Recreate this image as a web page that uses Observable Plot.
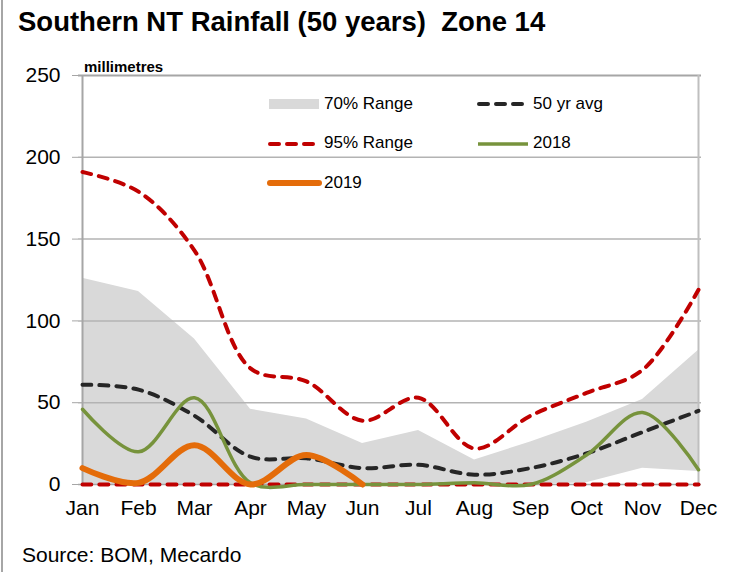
<!DOCTYPE html>
<html>
<head>
<meta charset="utf-8">
<script src="https://cdn.jsdelivr.net/npm/d3@7"></script>
<script src="https://cdn.jsdelivr.net/npm/@observablehq/plot@0.6"></script>
<style>
  body { margin: 0; background: #fff; font-family: "Liberation Sans", Arial, sans-serif; }
  #wrap { position: relative; width: 730px; height: 572px; overflow: hidden; }
  #border { position: absolute; left: 1px; top: 0; width: 2px; height: 572px; background: #a6a6a6; }
  #title { position: absolute; left: 18px; top: 6px; font-size: 27.5px; font-weight: bold; color: #000; white-space: pre; }
  #unit { position: absolute; left: 84px; top: 58px; font-size: 15px; font-weight: bold; color: #000; }
  #source { position: absolute; left: 22px; top: 543px; font-size: 21px; color: #000; }
  #chart { position: absolute; left: 0; top: 0; }
  .lg { position: absolute; font-size: 17px; color: #000; white-space: nowrap; }
  .sw { position: absolute; }
</style>
</head>
<body>
<div id="wrap">
  <div id="chart"></div>
  <div id="border"></div>
  <div id="title">Southern NT Rainfall (50 years)  Zone 14</div>
  <div id="unit">millimetres</div>
  <div id="source">Source: BOM, Mecardo</div>
  <svg class="sw" style="left:0;top:0" width="730" height="572">
    <rect x="269" y="99" width="50" height="10" fill="#d9d9d9"></rect>
    <line x1="479" y1="104" x2="523" y2="104" stroke="#262626" stroke-width="4" stroke-dasharray="9,8" stroke-linecap="round"></line>
    <line x1="270" y1="144" x2="314" y2="144" stroke="#c00000" stroke-width="4" stroke-dasharray="9,8" stroke-linecap="round"></line>
    <line x1="478" y1="144" x2="528" y2="144" stroke="#77933c" stroke-width="3.5"></line>
    <line x1="270" y1="183" x2="319" y2="183" stroke="#e46c0a" stroke-width="6" stroke-linecap="round"></line>
  </svg>
  <div class="lg" style="left:324px;top:94px">70% Range</div>
  <div class="lg" style="left:533px;top:94px">50 yr avg</div>
  <div class="lg" style="left:324px;top:133px">95% Range</div>
  <div class="lg" style="left:533px;top:133px">2018</div>
  <div class="lg" style="left:324px;top:173px">2019</div>
</div>
<script>
const months = ["Jan","Feb","Mar","Apr","May","Jun","Jul","Aug","Sep","Oct","Nov","Dec"];
const hi95 = [191,179,143,71,63,39,53,22,42,56,70,119];
const lo95 = [0,0,0,0,0,0,0,0,0,0,0,0];
const hi70 = [126,118,89,46,40,25,33,15,26,38,52,82];
const lo70 = [0,0,0,0,0,0,0,0,0,1,10,8];
const avg50 = [61,58,42,17,16,10,12,6,10,19,32,45];
const y2018 = [46,20,53,1,0,0,0,1,0,18,44,9];
const y2019 = [10,1,24,0,18,0];
const yTicks = [0,50,100,150,200,250];
const gridTicks = [50,100,150,200];

const rows = months.map((m, i) => ({month: m, hi95: hi95[i], lo95: lo95[i], hi70: hi70[i], lo70: lo70[i], avg: avg50[i], v2018: y2018[i]}));
const rows2019 = y2019.map((v, i) => ({month: months[i], v}));

const plot = Plot.plot({
  width: 730,
  height: 572,
  marginLeft: 78,
  marginRight: 29,
  marginTop: 75,
  marginBottom: 88,
  style: {fontFamily: "'Liberation Sans', Arial, sans-serif", fontSize: "21px", color: "#000", background: "transparent"},
  x: {type: "point", domain: months, padding: 0},
  y: {domain: [0, 250]},
  marks: [
    Plot.areaY(rows, {x: "month", y1: "lo70", y2: "hi70", fill: "#d9d9d9"}),
    Plot.ruleY(gridTicks, {stroke: "#b3b3b3", strokeWidth: 1.5}),
    Plot.ruleY([250], {stroke: "#a6a6a6", strokeWidth: 2}),
    Plot.ruleX(["Dec"], {stroke: "#bfbfbf", strokeWidth: 2}),
    Plot.ruleX(["Jan"], {stroke: "#a6a6a6", strokeWidth: 2}),
    Plot.ruleY([0], {stroke: "#a6a6a6", strokeWidth: 1.5}),
    Plot.axisY({ticks: yTicks, tickSize: 6, tickPadding: 12, stroke: "#a6a6a6", fill: "#000", fontSize: 21, label: null}),
    Plot.axisX({tickSize: 0, tickPadding: 16, fill: "#000", fontSize: 21, label: null}),
    Plot.line(rows, {x: "month", y: "lo95", stroke: "#c00000", strokeWidth: 4, strokeDasharray: "9,8", strokeLinecap: "round", curve: "catmull-rom"}),
    Plot.line(rows, {x: "month", y: "hi95", stroke: "#c00000", strokeWidth: 4, strokeDasharray: "9,8", strokeLinecap: "round", curve: "catmull-rom"}),
    Plot.line(rows, {x: "month", y: "avg", stroke: "#262626", strokeWidth: 4, strokeDasharray: "9,8", strokeLinecap: "round", curve: "catmull-rom"}),
    Plot.line(rows, {x: "month", y: "v2018", stroke: "#77933c", strokeWidth: 3.5, curve: "catmull-rom"}),
    Plot.line(rows2019, {x: "month", y: "v", stroke: "#e46c0a", strokeWidth: 6, strokeLinecap: "round", curve: "catmull-rom"})
  ]
});
document.getElementById("chart").appendChild(plot);
</script>
</body>
</html>
